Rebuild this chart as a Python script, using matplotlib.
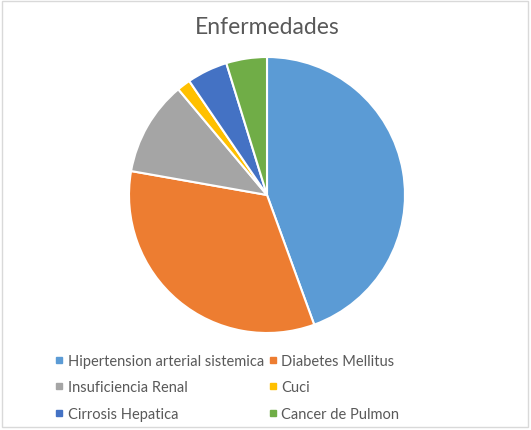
import matplotlib.pyplot as plt
from matplotlib.lines import Line2D
from matplotlib.patches import Rectangle

labels = ["Hipertension arterial sistemica", "Diabetes Mellitus", "Insuficiencia Renal",
          "Cuci", "Cirrosis Hepatica", "Cancer de Pulmon"]
counts = [28, 21, 7, 1, 3, 3]
colors = ["#5B9BD5", "#ED7D31", "#A5A5A5", "#FFC000", "#4472C4", "#70AD47"]

plt.rcParams['font.family'] = ['Lato', 'DejaVu Sans']

W, H = 531, 431
fig = plt.figure(figsize=(W / 100, H / 100), dpi=100)

# chart frame
fig.patches.append(Rectangle((2 / W, 3 / H), (W - 5) / W, (H - 5) / H, transform=fig.transFigure,
                             facecolor="white", edgecolor="#D9D9D9", linewidth=1, zorder=-5))

ax = fig.add_axes([129 / W, 97 / H, 276 / W, 276 / H])
ax.pie(counts, colors=colors, startangle=90, counterclock=False,
       wedgeprops=dict(edgecolor="white", linewidth=1.5))
ax.set_xlim(-1.0, 1.0)
ax.set_ylim(-1.0, 1.0)
ax.set_aspect("equal")
ax.axis("off")

fig.text(267 / W, (H - 28) / H, "Enfermedades", ha="center", va="center",
         fontsize=16.5, color="#595959")

handles = [Line2D([], [], marker="s", linestyle="none", markersize=5,
                  markerfacecolor=c, markeredgecolor=c) for c in colors]
# legend fills by column, so reorder to read row by row like the original
order = [0, 2, 4, 1, 3, 5]
fig.legend([handles[i] for i in order], [labels[i] for i in order], ncol=2, loc="center",
           bbox_to_anchor=(227 / W, (H - 388.5) / H),
           frameon=False, fontsize=10.5, labelcolor="#595959", handlelength=0.6,
           handletextpad=0.3, columnspacing=0.3, labelspacing=0.85, borderpad=0)

fig.savefig("out.png", dpi=100)
